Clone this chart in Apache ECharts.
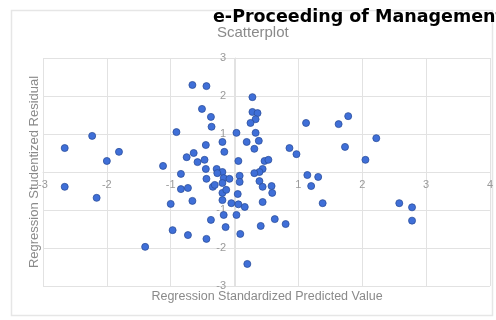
<!DOCTYPE html>
<html>
<head>
<meta charset="utf-8">
<script src="https://cdn.jsdelivr.net/npm/echarts@6/dist/echarts.min.js"></script>
<style>
  html, body { margin: 0; padding: 0; background: #fff; }
  #chart { width: 496px; height: 320px; }
</style>
</head>
<body>
<div id="chart"></div>
<script>
// Regression standardized predicted value (x) vs studentized residual (y)
const predicted = [
  -2.66, -2.23, -1.81, -2.00, -2.66, -2.16, -1.40,
  1.12, 1.63, 1.78, 2.22, 1.73, 2.05, 0.86, 0.97, 1.14, 1.31, 1.20, 1.38, 2.58, 2.78, 2.78,
  -0.66, -0.44, -0.51, -0.37, -0.36, -0.91, -0.45, -0.19, -0.64, -0.75, -0.58, -0.47, -1.12, -0.84, -0.45, -0.28, -0.16,
  0.28, 0.28, 0.36, 0.33, 0.25, 0.03, 0.33, 0.19, 0.38, 0.31, 0.06, 0.47, 0.53, 0.44, 0.39, 0.08, -0.19, -0.27,
  0.08, -0.17, 0.39, 0.44, 0.58, 0.59, 0.05, -0.19, -0.19, -0.05, 0.06, 0.16, 0.44, -0.17, 0.03, -0.14, 0.41, 0.63, 0.80, 0.09, 0.20,
  -0.84, -0.73, -0.66, -1.00, -0.44, -0.34, -0.37, -0.97, -0.73, -0.44,
  -0.08, -0.31, -0.19, -0.13, 0.31
];
const residual = [
  0.63, 0.95, 0.53, 0.29, -0.39, -0.68, -1.97,
  1.29, 1.26, 1.47, 0.89, 0.66, 0.32, 0.63, 0.47, -0.08, -0.13, -0.37, -0.82, -0.82, -0.93, -1.28,
  2.29, 2.26, 1.66, 1.45, 1.19, 1.05, 0.71, 0.79, 0.50, 0.39, 0.26, 0.32, 0.16, -0.05, 0.08, 0.08, 0.53,
  1.97, 1.58, 1.55, 1.39, 1.29, 1.03, 1.03, 0.79, 0.82, 0.61, 0.29, 0.29, 0.32, 0.08, 0.00, -0.10, 0.00, -0.03,
  -0.26, -0.16, -0.24, -0.39, -0.37, -0.55, -0.58, -0.55, -0.74, -0.82, -0.85, -0.92, -0.79, -1.13, -1.13, -1.45, -1.42, -1.24, -1.37, -1.63, -2.42,
  -0.45, -0.42, -0.76, -0.84, -0.18, -0.39, -1.26, -1.53, -1.66, -1.76,
  -0.18, -0.34, -0.29, -0.47, -0.03
];
const xTicks = [-3, -2, -1, 0, 1, 2, 3, 4];
const yTicks = [-3, -2, -1, 0, 1, 2, 3];

const points = predicted.map((x, i) => [x, residual[i]]);

const W = 496, H = 320;
const grid = { left: 43, right: 5, top: 58, bottom: 34 };
const xMin = xTicks[0], xMax = xTicks[xTicks.length - 1];
const yMin = yTicks[0], yMax = yTicks[yTicks.length - 1];

// Axes cross at the origin: shift each axis (with its labels) inward to zero
const plotW = W - grid.left - grid.right;
const plotH = H - grid.top - grid.bottom;
const xAxisShift = -plotH * (0 - yMin) / (yMax - yMin);
const yAxisShift = -plotW * (0 - xMin) / (xMax - xMin);

const chart = echarts.init(document.getElementById('chart'), null, { renderer: 'canvas' });

const gridColor = '#e2e2e2';
const labelColor = '#9a9a9a';
const font = 'Liberation Sans, Arial, sans-serif';

chart.setOption({
  animation: false,
  backgroundColor: '#fff',
  grid: Object.assign({ containLabel: false }, grid),
  xAxis: {
    type: 'value',
    min: xMin,
    max: xMax,
    interval: 1,
    position: 'bottom',
    offset: xAxisShift,
    axisLine: { onZero: false, lineStyle: { color: gridColor } },
    axisTick: { show: false },
    splitLine: { lineStyle: { color: gridColor, width: 1 } },
    axisLabel: {
      color: labelColor, fontSize: 11, fontFamily: font, margin: 7,
      formatter: v => (v === 0 ? '' : String(v))
    }
  },
  yAxis: {
    type: 'value',
    min: yMin,
    max: yMax,
    interval: 1,
    position: 'left',
    offset: yAxisShift,
    axisLine: { onZero: false, lineStyle: { color: gridColor } },
    axisTick: { show: false },
    splitLine: { lineStyle: { color: gridColor, width: 1 } },
    axisLabel: {
      color: labelColor, fontSize: 11, fontFamily: font, margin: 9,
      formatter: v => (v === 0 ? '' : String(v))
    }
  },
  series: [{
    type: 'scatter',
    data: points,
    symbolSize: 7,
    itemStyle: { color: '#3f6fd8', borderColor: '#2c4f9c', borderWidth: 0.8, opacity: 1 }
  }],
  graphic: [
    {
      type: 'rect', silent: true, z: -10,
      shape: { x: 11.5, y: 10.5, width: 481, height: 305 },
      style: { fill: 'none', stroke: '#e6e6e6', lineWidth: 1.5 }
    },
    {
      type: 'text', left: 213, top: 8,
      style: { text: 'e-Proceeding of Management', fill: '#000', font: 'bold 17.5px "DejaVu Sans"' }
    },
    {
      type: 'text', left: 217, top: 25,
      style: { text: 'Scatterplot', fill: '#8a8a8a', font: '15px ' + font }
    },
    {
      type: 'text', x: 267, y: 297,
      style: {
        text: 'Regression Standardized Predicted Value', fill: '#8a8a8a',
        font: '12.5px ' + font, align: 'center', verticalAlign: 'middle'
      }
    },
    {
      type: 'text', x: 34, y: 172, rotation: Math.PI / 2,
      style: {
        text: 'Regression Studentized Residual', fill: '#8a8a8a',
        font: '13px ' + font, align: 'center', verticalAlign: 'middle'
      }
    }
  ]
});
</script>
</body>
</html>
